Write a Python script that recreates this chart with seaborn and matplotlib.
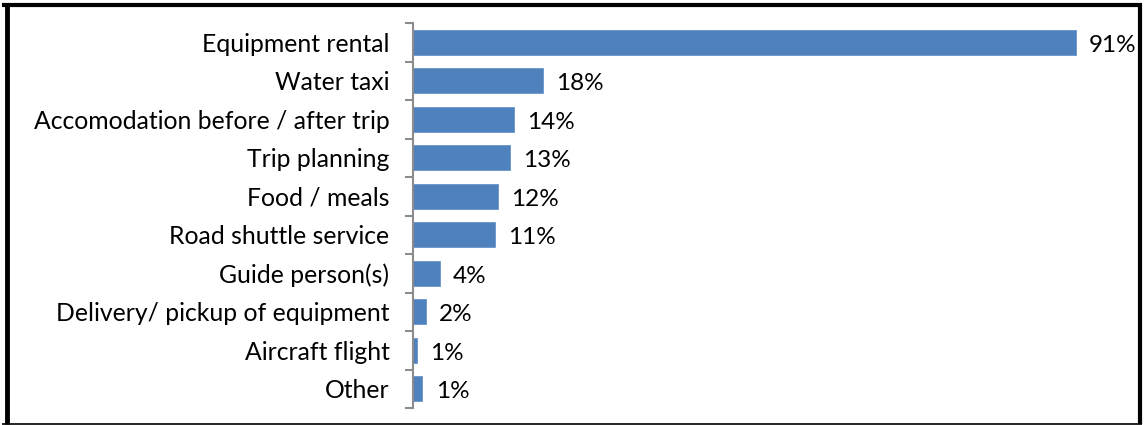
import matplotlib
matplotlib.use("Agg")
import matplotlib.pyplot as plt
import seaborn as sns
import pandas as pd
from matplotlib.lines import Line2D

categories = ["Equipment rental", "Water taxi", "Accomodation before / after trip",
              "Trip planning", "Food / meals", "Road shuttle service", "Guide person(s)",
              "Delivery/ pickup of equipment", "Aircraft flight", "Other"]
values = [91, 17.8, 13.9, 13.3, 11.7, 11.2, 3.7, 1.8, 0.6, 1.3]
labels = ["91%", "18%", "14%", "13%", "12%", "11%", "4%", "2%", "1%", "1%"]

sns.set_theme(style="white")
plt.rcParams['font.family'] = ['Lato', 'DejaVu Sans']

W, H = 1144, 425
fig = plt.figure(figsize=(W/100, H/100), dpi=100)
ax = fig.add_axes([413/W, 1-408/H, (1141.6-413)/W, (408-23)/H])

df = pd.DataFrame({"cat": categories, "val": values})
sns.barplot(data=df, y="cat", x="val", orient="h", color="#4F81BD", saturation=1,
            width=0.65, ax=ax, edgecolor="#6a95cc", linewidth=0.6)
ax.set_xlim(0, 100)
ax.set_ylim(len(categories)-0.5, -0.5)
ax.set_xlabel("")
ax.set_ylabel("")
ax.set_xticks([])
ax.set_yticks([i - 0.5 for i in range(len(categories)+1)], minor=False)
ax.set_yticklabels([])
ax.set_yticks(range(len(categories)), minor=True)
ax.set_yticklabels(categories, minor=True, fontsize=17.8, color="#000000")
ax.tick_params(axis="y", which="major", length=6, width=1.5, color="#8c8c8c", left=True)
ax.tick_params(axis="y", which="minor", length=0, pad=17)
for s in ["top", "right", "bottom"]:
    ax.spines[s].set_visible(False)
ax.spines["left"].set_color("#8c8c8c")
ax.spines["left"].set_linewidth(1.5)

for i, (v, lab) in enumerate(zip(values, labels)):
    ax.text(v + 1.8, i + 0.08, lab, va="center", ha="left", fontsize=17.5, color="#000000")

# figure frame
def fl(x0, y0, x1, y1, lw):
    fig.add_artist(Line2D([x0/W, x1/W], [1-y0/H, 1-y1/H], color="black", lw=lw,
                          transform=fig.transFigure, solid_capstyle="butt"))
fl(2, 4.5, 1142, 4.5, 3)
fl(6.5, 3, 6.5, 424, 3.5)
fl(1139.5, 3, 1139.5, 424, 3)
fl(2, 423.5, 1142, 423.5, 1.2)

fig.savefig("out.png", dpi=100)
